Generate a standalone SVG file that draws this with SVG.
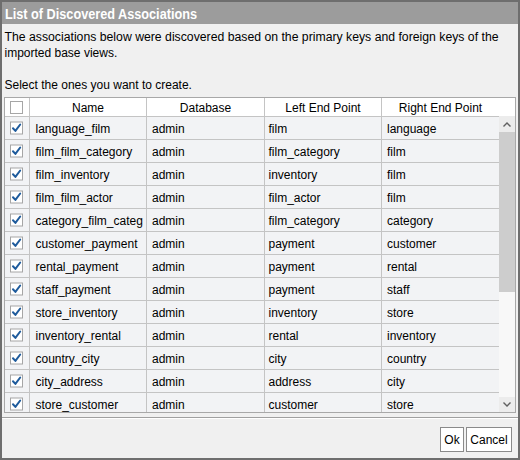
<svg xmlns="http://www.w3.org/2000/svg" width="520" height="460" viewBox="0 0 520 460">
<style>
text{font-family:"Liberation Sans",Arial,sans-serif;font-size:12px;fill:#000}
.title{font-size:14px;fill:#fff;font-weight:bold}
.hdr{text-anchor:middle}
.grid{stroke:#c4c4c4;stroke-width:1;fill:none}
.cb{fill:#fff;stroke:#a6a6a6;stroke-width:1}
.chk{fill:none;stroke:#1e5b9c;stroke-width:2;stroke-linecap:round;stroke-linejoin:round}
.row{fill:#f2f3f5}
.btn{fill:#fff;stroke:#8a8a8a;stroke-width:1}
.arrow{fill:none;stroke:#606060;stroke-width:1.4}
</style>
<defs>
<g id="cbox"><rect class="cb" x="10.5" y="-5.5" width="12" height="12"/><path class="chk" d="M13 0.8 L15.4 3.4 L20.2 -3"/></g>
<clipPath id="tbl"><rect x="5" y="98" width="510" height="314"/></clipPath>
</defs>
<rect x="0" y="0" width="520" height="460" fill="#f0f0f0"/>
<g id="title-bar">
<rect x="0" y="0" width="520" height="24" fill="#9c9c9c"/>
<text class="title" x="5" y="18.5" textLength="192" lengthAdjust="spacingAndGlyphs">List of Discovered Associations</text>
</g>
<g id="intro">
<text x="4.5" y="40.5" textLength="494" lengthAdjust="spacingAndGlyphs">The associations below were discovered based on the primary keys and foreign keys of the</text>
<text x="4.5" y="57">imported base views.</text>
<text x="4.5" y="89">Select the ones you want to create.</text>
</g>
<g id="table" clip-path="url(#tbl)">
<g id="header">
<rect x="5" y="98" width="510" height="18" fill="#fff"/>
<rect class="cb" x="10.5" y="101.5" width="12" height="12"/>
<text class="hdr" x="88" y="111.5">Name</text>
<text class="hdr" x="205.5" y="111.5">Database</text>
<text class="hdr" x="323" y="111.5">Left End Point</text>
<text class="hdr" x="440.5" y="111.5">Right End Point</text>
</g>
<g id="rows">
<rect class="row" x="5" y="116" width="494" height="296"/>
<g id="row1"><use href="#cbox" transform="translate(0,127.5)"/><text x="35.5" y="132.5">language_film</text><text x="152" y="132.5">admin</text><text x="268.5" y="132.5">film</text><text x="387" y="132.5">language</text></g>
<g id="row2"><use href="#cbox" transform="translate(0,150.5)"/><text x="35.5" y="155.5">film_film_category</text><text x="152" y="155.5">admin</text><text x="268.5" y="155.5">film_category</text><text x="387" y="155.5">film</text></g>
<g id="row3"><use href="#cbox" transform="translate(0,173.5)"/><text x="35.5" y="178.5">film_inventory</text><text x="152" y="178.5">admin</text><text x="268.5" y="178.5">inventory</text><text x="387" y="178.5">film</text></g>
<g id="row4"><use href="#cbox" transform="translate(0,196.5)"/><text x="35.5" y="201.5">film_film_actor</text><text x="152" y="201.5">admin</text><text x="268.5" y="201.5">film_actor</text><text x="387" y="201.5">film</text></g>
<g id="row5"><use href="#cbox" transform="translate(0,219.5)"/><text x="35.5" y="224.5">category_film_categ</text><text x="152" y="224.5">admin</text><text x="268.5" y="224.5">film_category</text><text x="387" y="224.5">category</text></g>
<g id="row6"><use href="#cbox" transform="translate(0,242.5)"/><text x="35.5" y="247.5">customer_payment</text><text x="152" y="247.5">admin</text><text x="268.5" y="247.5">payment</text><text x="387" y="247.5">customer</text></g>
<g id="row7"><use href="#cbox" transform="translate(0,265.5)"/><text x="35.5" y="270.5">rental_payment</text><text x="152" y="270.5">admin</text><text x="268.5" y="270.5">payment</text><text x="387" y="270.5">rental</text></g>
<g id="row8"><use href="#cbox" transform="translate(0,288.5)"/><text x="35.5" y="293.5">staff_payment</text><text x="152" y="293.5">admin</text><text x="268.5" y="293.5">payment</text><text x="387" y="293.5">staff</text></g>
<g id="row9"><use href="#cbox" transform="translate(0,311.5)"/><text x="35.5" y="316.5">store_inventory</text><text x="152" y="316.5">admin</text><text x="268.5" y="316.5">inventory</text><text x="387" y="316.5">store</text></g>
<g id="row10"><use href="#cbox" transform="translate(0,334.5)"/><text x="35.5" y="339.5">inventory_rental</text><text x="152" y="339.5">admin</text><text x="268.5" y="339.5">rental</text><text x="387" y="339.5">inventory</text></g>
<g id="row11"><use href="#cbox" transform="translate(0,357.5)"/><text x="35.5" y="362.5">country_city</text><text x="152" y="362.5">admin</text><text x="268.5" y="362.5">city</text><text x="387" y="362.5">country</text></g>
<g id="row12"><use href="#cbox" transform="translate(0,380.5)"/><text x="35.5" y="385.5">city_address</text><text x="152" y="385.5">admin</text><text x="268.5" y="385.5">address</text><text x="387" y="385.5">city</text></g>
<g id="row13"><use href="#cbox" transform="translate(0,403.5)"/><text x="35.5" y="408.5">store_customer</text><text x="152" y="408.5">admin</text><text x="268.5" y="408.5">customer</text><text x="387" y="408.5">store</text></g>
</g>
<g id="gridlines">
<path class="grid" d="M5 116.5H499 M5 139.5H499 M5 162.5H499 M5 185.5H499 M5 208.5H499 M5 231.5H499 M5 254.5H499 M5 277.5H499 M5 300.5H499 M5 323.5H499 M5 346.5H499 M5 369.5H499 M5 392.5H499"/>
<path class="grid" d="M29.5 98V412 M146.5 98V412 M264.5 98V412 M381.5 98V412 M499.5 98V116"/>
</g>
<g id="scrollbar">
<rect x="499" y="98" width="16" height="18" fill="#fff"/>
<rect x="499" y="116" width="16" height="296" fill="#f8f8f8"/>
<rect x="499" y="116" width="16" height="16" fill="#ececec"/>
<rect x="499" y="132" width="16" height="160" fill="#cdcdcd"/>
<rect x="499" y="397" width="16" height="15" fill="#ececec"/>
<path class="arrow" d="M503.5 126.5L507 123L510.5 126.5"/>
<path class="arrow" d="M503.5 402.5L507 406L510.5 402.5"/>
</g>
</g>
<rect x="4.5" y="97.5" width="511" height="315" fill="none" stroke="#a8a8a8"/>
<g id="footer">
<line x1="1" y1="417.5" x2="519" y2="417.5" stroke="#a0a0a0"/>
<line x1="1" y1="418.5" x2="519" y2="418.5" stroke="#ffffff"/>
<g id="btn-ok"><rect class="btn" x="440.5" y="427.5" width="23" height="24"/><text class="hdr" x="452" y="444">Ok</text></g>
<g id="btn-cancel"><rect class="btn" x="466.5" y="427.5" width="45" height="24"/><text class="hdr" x="489" y="444">Cancel</text></g>
</g>
<rect x="1" y="1" width="518" height="458" fill="none" stroke="#6e6e6e" stroke-width="2"/>
</svg>
